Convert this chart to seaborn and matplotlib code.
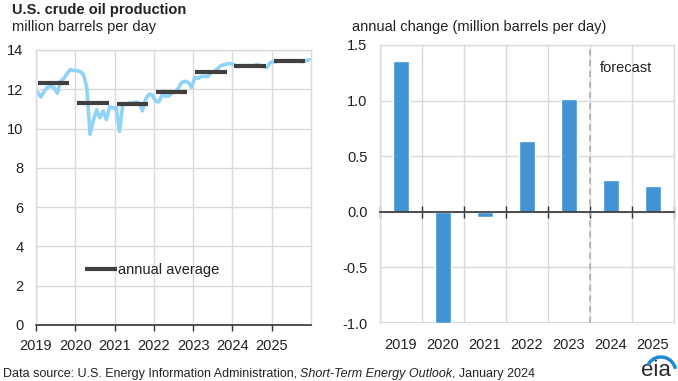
import matplotlib
matplotlib.use('Agg')
import matplotlib.pyplot as plt
from matplotlib.lines import Line2D
import numpy as np
import pandas as pd
import seaborn as sns

# monthly U.S. crude oil production, million barrels per day
years = [2019, 2020, 2021, 2022, 2023, 2024, 2025]
monthly = [
    11.85, 11.60, 11.90, 12.10, 12.15, 12.10, 11.80, 12.40, 12.55, 12.80, 13.00, 12.95,  # 2019
    12.95, 12.90, 12.75, 12.10, 9.70, 10.40, 10.95, 10.55, 10.90, 10.45, 11.10, 11.05,   # 2020
    11.05, 9.85, 11.20, 11.25, 11.30, 11.30, 11.35, 11.30, 10.90, 11.50, 11.75, 11.70,   # 2021
    11.40, 11.35, 11.70, 11.65, 11.65, 11.80, 11.85, 12.05, 12.35, 12.40, 12.35, 12.10,  # 2022
    12.60, 12.55, 12.65, 12.65, 12.65, 12.85, 12.90, 13.05, 13.20, 13.25, 13.30, 13.30,  # 2023
    13.25, 13.15, 13.20, 13.20, 13.20, 13.20, 13.20, 13.25, 13.20, 13.15, 13.10, 13.35,  # 2024
    13.40, 13.40, 13.45, 13.45, 13.45, 13.45, 13.45, 13.45, 13.45, 13.40, 13.45, 13.50,  # 2025
]
annual_avg = [12.30, 11.30, 11.25, 11.88, 12.90, 13.20, 13.45]
annual_change = [1.36, -1.00, -0.05, 0.64, 1.01, 0.29, 0.23]
year_labels = [str(y) for y in years]

sns.set_theme(style='whitegrid')
plt.rcParams['font.family'] = ['Liberation Sans', 'DejaVu Sans']
plt.rcParams['axes.unicode_minus'] = False

line_blue = '#8fd3f8'
bar_blue = '#4193d3'
grid_gray = '#dadada'
avg_gray = '#404040'
txt = '#222222'

df = pd.DataFrame({
    'x': [years[0] + (i + 0.5) / 12 for i in range(len(monthly))],
    'value': monthly,
})
df_bar = pd.DataFrame({'year': year_labels, 'change': annual_change})

fig = plt.figure(figsize=(6.78, 3.81), dpi=100)
fig.patch.set_facecolor('white')
ax1 = fig.add_axes([0.0531, 0.147, 0.4056, 0.722])
ax2 = fig.add_axes([0.5605, 0.1522, 0.4336, 0.7297])

# left panel: monthly line + annual averages
sns.lineplot(data=df, x='x', y='value', ax=ax1, color=line_blue, linewidth=2.6)
ax1.hlines(annual_avg, [y + 0.05 for y in years], [y + 0.85 for y in years],
           color=avg_gray, linewidth=3, label='annual average')
ax1.set_xlim(2019, 2026)
ax1.set_ylim(0, 14)
ax1.set_xticks(years)
ax1.set_xticklabels(year_labels)
ax1.set_yticks(range(0, 15, 2))
ax1.set_xlabel('')
ax1.set_ylabel('')
ax1.grid(True, color=grid_gray, linewidth=1)
for s in ax1.spines.values():
    s.set_color(grid_gray)
    s.set_linewidth(1)
ax1.spines['bottom'].set_color('#333333')
ax1.spines['bottom'].set_linewidth(1.2)
ax1.tick_params(axis='x', bottom=True, direction='out', length=4, width=1,
                color='#333333', pad=6, labelsize=10.5, labelcolor=txt)
ax1.tick_params(axis='y', length=0, pad=9, labelsize=10.5, labelcolor=txt)
h = ax1.get_legend_handles_labels()
ax1.legend(h[0][-1:], h[1][-1:], loc='lower left', bbox_to_anchor=(0.13, 0.125),
           frameon=False, handlelength=2.2, handletextpad=0.1, fontsize=10.5,
           labelcolor=txt)

# right panel: annual change bars
sns.barplot(data=df_bar, x='year', y='change', ax=ax2, color=bar_blue,
            width=0.4, saturation=1)
ax2.set_xlim(-0.5, 6.5)
ax2.set_ylim(-1.0, 1.5)
ax2.set_yticks([1.5, 1.0, 0.5, 0.0, -0.5, -1.0])
ax2.set_yticklabels(['1.5', '1.0', '0.5', '0.0', '-0.5', '-1.0'])
ax2.set_xlabel('')
ax2.set_ylabel('')
bounds = np.arange(-0.5, 7.0, 1.0)
ax2.set_xticks(bounds, minor=True)
ax2.grid(False)
ax2.grid(True, axis='y', which='major', color=grid_gray, linewidth=1)
ax2.grid(True, axis='x', which='minor', color=grid_gray, linewidth=1)
for s in ax2.spines.values():
    s.set_color(grid_gray)
    s.set_linewidth(1)
ax2.spines['bottom'].set_position(('data', 0))
ax2.spines['bottom'].set_color('#333333')
ax2.spines['bottom'].set_linewidth(1.2)
ax2.spines['bottom'].set_zorder(3)
ax2.axhline(-1.0, color=grid_gray, linewidth=1.5, zorder=0)
ax2.tick_params(axis='x', which='minor', bottom=True, direction='inout', length=8,
                width=1, color='#333333')
ax2.tick_params(axis='x', which='major', length=0, labelbottom=False)
ax2.tick_params(axis='y', length=0, pad=9, labelsize=10.5, labelcolor=txt)
sec = ax2.secondary_xaxis(0.0)
sec.set_xticks(range(len(year_labels)))
sec.set_xticklabels(year_labels)
sec.tick_params(length=0, pad=11, labelsize=10.5, labelcolor=txt)
sec.spines['bottom'].set_visible(False)
ax2.axvline(4.5, color='#a8a8a8', linewidth=1.1, linestyle=(0, (4, 3)))
ax2.text(4.74, 1.29, 'forecast', fontsize=10.5, color=txt, va='center', ha='left')

# titles
fig.text(0.018, 0.963, 'U.S. crude oil production', fontsize=10.5,
         fontweight='bold', color=txt, va='baseline')
fig.text(0.018, 0.918, 'million barrels per day', fontsize=10.5, color=txt,
         va='baseline')
fig.text(0.519, 0.918, 'annual change (million barrels per day)', fontsize=10.5,
         color=txt, va='baseline')

# footer
t1 = fig.text(0.004, 0.011, 'Data source: U.S. Energy Information Administration, ',
              fontsize=9, color=txt, va='baseline')
t2 = ax1.annotate('Short-Term Energy Outlook', xy=(1, 0), xycoords=t1,
                  fontsize=9, color=txt, style='italic', va='bottom')
ax1.annotate(', January 2024', xy=(1, 0), xycoords=t2, fontsize=9,
             color=txt, va='bottom')

# eia logo: text plus blue swoosh
fig.text(0.968, 0.014, 'eia', fontsize=16, color='#2b2b2b', ha='center',
         va='baseline')
ang = np.radians(np.linspace(15, 150, 40))
swoosh = Line2D(6.61 + 0.15 * np.cos(ang), 0.08 + 0.16 * np.sin(ang),
                transform=fig.dpi_scale_trans, color='#1e8ad6', linewidth=2.5,
                solid_capstyle='butt', zorder=5)
fig.add_artist(swoosh)

fig.savefig('out.png', dpi=100, facecolor='white')
